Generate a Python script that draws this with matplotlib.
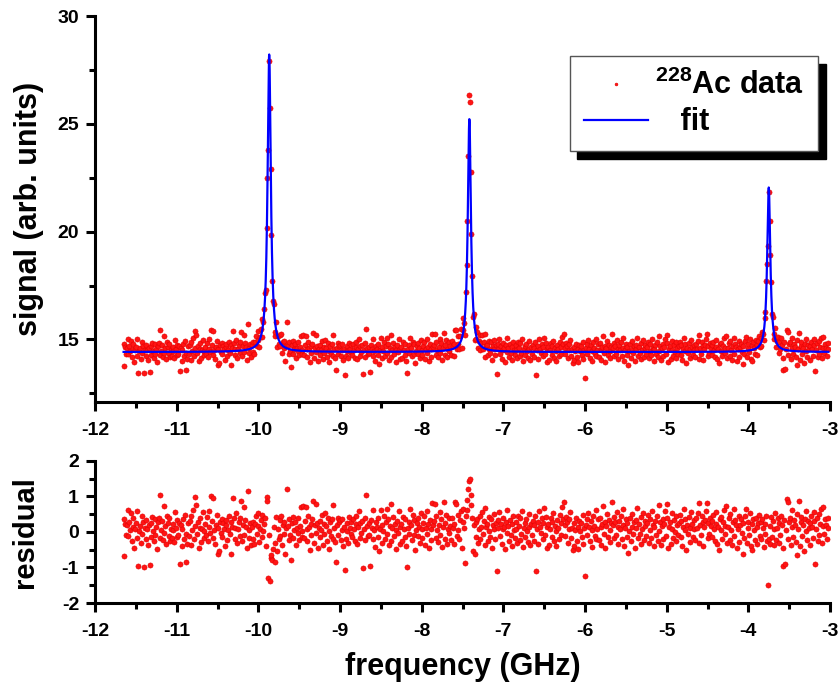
import numpy as np
import matplotlib
matplotlib.use("Agg")
import matplotlib.pyplot as plt
from matplotlib.ticker import MultipleLocator

# scan grid (GHz)
freq_start = -11.65
freq_step = 0.01

# Lorentzian fit parameters
baseline = 14.42
peak_centers = [-9.867, -7.416, -3.75]
peak_heights = [13.8, 10.8, 7.63]
peak_fwhm = [0.048, 0.046, 0.046]

# residual (data - fit) in units of 0.01, one row = 0.2 GHz
residual_centi = [
    -67, 35, 22, -8, 18, 61, -12, 27, 5, 52, -25, 14, 38, -45, 9, 24, 58, -18, -96, 3,
    16, -32, 44, -5, 29, -100, 11, -21, 33, 8, -38, 19, -92, 26, -14, 41, 2, -27, 35, -9,
    13, -47, 28, 39, 103, -16, 6, 31, -22, 72, -3, 17, -35, 45, 24, -11, 38, -26, 9, -18,
    21, 4, -29, 57, 12, -15, 33, -8, 26, -90, 18, -41, 7, 36, -19, 48, -6, -85, -33, 25,
    -12, 30, 44, -38, 5, 62, -21, 98, 17, 76, -7, 27, -44, 11, 39, -28, 8, 55, -16, 2,
    23, -9, 41, -26, 14, 58, -4, 102, 31, -17, 95, 6, -33, 19, 47, -61, 12, -55, 28, -2,
    37, -14, 26, 9, -40, 18, 33, -22, 4, 45, -7, 29, -63, 15, 95, 38, -19, 11, 52, -31,
    8, 27, -12, 40, 87, -25, 19, 71, -8, 33, 15, -46, 116, 6, -18, 24, -37, 13, 29, -21,
    -34, 21, 46, -5, 17, 52, -28, 9, 34, -15, 48, 3, 22, 38, -41, 98, 87, -130, -10, -139,
    -72, -65, -78, -48, 14, -85, -30, 42, -55, 8, -20, 33, -12, 46, -38, 19, -5, 27, -62, 11,
    121, 16, -24, 35, -9, -80, 24, 41, -17, 6, 29, -36, 12, -4, 38, -22, 17, 70, -13, 3,
    72, -18, 30, 71, 9, -27, 44, 14, -52, 23, -8, 36, 87, -31, 18, 78, -3, 25, -44, 11,
    32, -15, 5, 48, -36, 21, -7, 54, 16, -25, 39, 2, -48, 28, -12, 35, 77, -20, 10, -29,
    -85, 18, 40, -9, 27, 33, -22, 6, 37, -40, 14, -108, -19, 25, 3, -31, 42, 11, -6, 29,
    -14, 36, 8, -27, 21, 45, -35, 13, 60, -18, 26, -3, 31, -101, 9, 40, -24, 105, 17, -11,
    24, -8, -95, 33, 12, -20, 61, 5, -42, 28, 15, -14, 38, -55, 9, 62, -31, 20, 2, 45,
    -19, 27, 64, -6, 35, -38, 16, 78, -25, 10, 41, -12, 23, -47, 6, 30, -2, 58, -33, 14,
    21, -27, 43, 8, -15, 36, -41, -100, 12, 29, -6, 64, 18, -22, 47, -9, 34, -52, 4, 25,
    -11, 38, 15, -30, 52, 7, -18, 26, 44, -37, 11, 60, -5, 22, -46, 33, 9, -24, 80, 18,
    31, 78, -16, 44, 5, -28, 20, 57, -9, 35, -42, 13, 83, 26, -19, 48, -33, 7, 39, -4,
    17, -24, 40, 12, -35, 22, 85, 79, -12, 48, 6, -20, 33, 58, -45, 27, 64, 10, -88, 45,
    62, 90, 120, 143, 150, 105, 75, 40, -55, 18, -62, 27, -14, 35, -30, 9, 44, -21, 13, 56,
    -7, 30, 68, -38, 15, 22, -26, 41, 3, -15, 37, -44, 19, 8, 50, -20, 26, -109, 11, 34,
    55, -12, 23, -35, 7, 40, 14, -48, 28, -3, 62, 17, -25, 33, -9, 21, -40, 46, 5, -17,
    29, 8, -31, 44, 16, -22, 38, -6, 60, -43, 12, 25, -15, 35, 3, -28, 49, 14, -37, 21,
    -10, 32, 18, -25, 45, -110, 9, 27, -33, 60, 15, -4, 38, -19, 24, 66, -8, 41, -46, 13,
    22, -36, 7, 39, -14, 28, 52, -27, 16, 3, -41, 33, 11, -20, 47, 24, -9, 70, 36, 83,
    18, -12, 43, 27, -30, 9, 35, 55, -18, 12, -52, -40, 24, 6, 38, -25, 15, -47, 30, 2,
    26, -15, 48, -34, 11, -123, 20, 37, -8, 54, 14, -27, 31, 5, -42, 44, 17, -11, 62, -20,
    9, 35, -24, 40, 13, -38, 22, 74, -6, 29, -45, 16, 51, -13, 33, 4, -29, 25, 85, 18,
    -17, 42, 27, -9, 56, 14, -33, 31, 7, 45, -21, 19, 63, -40, 10, 36, -14, 24, -60, 2,
    38, -26, 15, 50, -7, 28, -44, 12, 33, 66, -18, 21, -5, 41, -35, 8, 54, -23, 17, 30,
    -12, 24, 47, -30, 6, 37, -16, 58, 20, -41, 13, 31, -8, 44, -25, 75, 3, 27, -38, 16,
    35, -20, 22, 60, -11, 40, 79, -45, 14, 28, -34, 9, 52, -17, 33, 1, -27, 45, 18, -8,
    26, 48, -13, 31, -39, 15, 65, 4, 37, -50, 20, -6, 43, 12, -28, 56, 23, -15, 34, 7,
    -22, 38, 11, 52, -31, 80, 19, -9, 44, 27, -40, 14, 33, 60, 82, -18, 25, -5, 39, 16,
    30, -14, 47, 8, -26, 21, 55, -35, 13, -52, 36, 4, 42, -19, 28, 62, -7, 17, 72, -30,
    15, 39, -22, 50, 6, -37, 27, 64, -12, 33, 20, -45, 9, 46, -28, 18, 35, -3, -62, 24,
    -16, 44, 65, -30, 12, 29, -8, 53, -41, 21, -50, 37, 5, -24, 40, 14, -33, 26, 47, -11,
    28, -19, 36, 10, -42, 23, -6, 45, -27, -148, -20, -35, 17, 41, -13, 30, -38, 8, 52, -24,
    12, 39, -30, 25, -8, 46, 18, -44, -97, 33, -90, 5, 93, 85, -21, 29, 40, -36, 14, 62,
    -15, 34, 20, -28, 51, -66, 9, 86, -40, 27, 43, -12, 18, -55, 36, 2, 60, -23, 31, 11,
    24, -37, 45, 14, -18, 57, 30, -90, 8, 39, -25, 50, -10, 22, 64, -31, 16, 70, -6, 35,
    18, -20, 40, 12,
]

plt.rcParams["font.family"] = ["Liberation Sans", "DejaVu Sans"]
plt.rcParams["font.weight"] = "bold"
plt.rcParams["axes.labelweight"] = "bold"
plt.rcParams["axes.unicode_minus"] = False
plt.rcParams["mathtext.fontset"] = "custom"
plt.rcParams["mathtext.rm"] = "Liberation Sans:bold"
plt.rcParams["mathtext.bf"] = "Liberation Sans:bold"
plt.rcParams["mathtext.it"] = "Liberation Sans:bold"
plt.rcParams["mathtext.default"] = "bf"


def lorentz_fit(x):
    y = np.full_like(x, baseline, dtype=float)
    for c, h, w in zip(peak_centers, peak_heights, peak_fwhm):
        hw = w / 2
        y += h * hw ** 2 / ((x - c) ** 2 + hw ** 2)
    return y


residual = np.array(residual_centi) / 100.0
freq = freq_start + freq_step * np.arange(len(residual))
signal = lorentz_fit(freq) + residual
fit_x = np.linspace(freq[0], freq[-1], 8000)
fit_y = lorentz_fit(fit_x)

fig = plt.figure(figsize=(8.4, 6.88), dpi=100)
ax1 = fig.add_axes([0.1131, 0.4157, 0.875, 0.5610])
ax2 = fig.add_axes([0.1131, 0.1235, 0.875, 0.2068])

pt_kw = dict(linestyle="none", marker="o", ms=3.7, mfc="#ff1414", mec="#e00000", mew=0.4)

ax1.plot(freq, signal, label=r"$^{228}$Ac data ", zorder=2, **pt_kw)
ax1.plot(fit_x, fit_y, color="#0000ff", lw=1.6, label="   fit", zorder=3)
ax2.plot(freq, residual, zorder=2, **pt_kw)

ax1.set_xlim(-12, -3)
ax1.set_ylim(12.1, 30)
ax2.set_xlim(-12, -3)
ax2.set_ylim(-2, 2)

ax1.xaxis.set_major_locator(MultipleLocator(1))
ax1.xaxis.set_minor_locator(MultipleLocator(0.5))
ax1.yaxis.set_major_locator(MultipleLocator(5))
ax1.yaxis.set_minor_locator(MultipleLocator(2.5))
ax2.xaxis.set_major_locator(MultipleLocator(1))
ax2.xaxis.set_minor_locator(MultipleLocator(0.5))
ax2.yaxis.set_major_locator(MultipleLocator(1))
ax2.yaxis.set_minor_locator(MultipleLocator(0.5))

for ax in (ax1, ax2):
    for side in ("top", "right"):
        ax.spines[side].set_visible(False)
    for side in ("left", "bottom"):
        ax.spines[side].set_linewidth(2.2)
    ax.tick_params(which="major", direction="out", length=6.5, width=2.2, labelsize=14)
    ax.tick_params(which="minor", direction="out", length=4, width=2.2)
    ax.tick_params(axis="x", which="major", pad=8)
    ax.tick_params(axis="y", which="major", pad=5)

ax1.set_ylabel("signal (arb. units)", fontsize=22)
ax2.set_ylabel("residual", fontsize=21)
ax2.set_xlabel("frequency (GHz)", fontsize=22)
ax1.yaxis.set_label_coords(-0.07, 0.5)
ax2.yaxis.set_label_coords(-0.076, 0.5)
ax2.xaxis.set_label_coords(0.5, -0.345)

leg = ax1.legend(loc="upper right", bbox_to_anchor=(0.984, 0.896), borderaxespad=0,
                 fontsize=22, fancybox=False, edgecolor="#555555", framealpha=1,
                 handlelength=2.1, handletextpad=0.25, borderpad=0.45,
                 labelspacing=0.2, markerscale=0.55,
                 shadow={"color": "black", "alpha": 1, "ox": 5.5, "oy": -5.5})
leg.get_frame().set_linewidth(1.0)

fig.savefig("out.png", dpi=100)
